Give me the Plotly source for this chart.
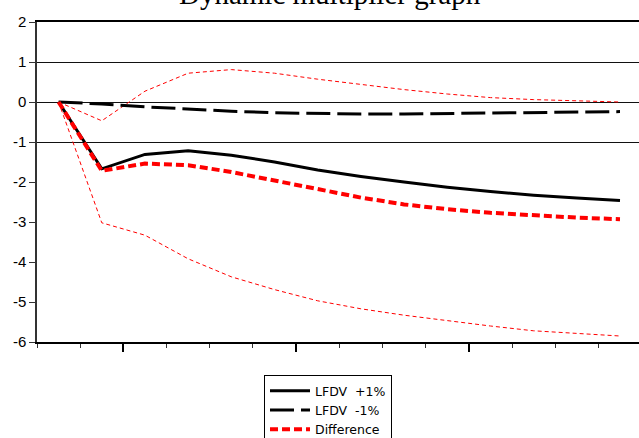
import plotly.graph_objects as go

periods = list(range(1, 15))
lfdv_plus = [0, -1.67, -1.31, -1.22, -1.33, -1.50, -1.70, -1.86, -2.00, -2.13, -2.24, -2.33, -2.40, -2.46]
lfdv_minus = [0, -0.05, -0.12, -0.18, -0.23, -0.27, -0.29, -0.30, -0.30, -0.29, -0.28, -0.27, -0.26, -0.24]
difference = [0, -1.72, -1.54, -1.58, -1.75, -1.96, -2.19, -2.39, -2.56, -2.68, -2.77, -2.84, -2.89, -2.93]
diff_upper = [0, -0.47, 0.27, 0.72, 0.81, 0.72, 0.57, 0.44, 0.31, 0.20, 0.11, 0.06, 0.03, 0.0]
diff_lower = [0, -3.02, -3.33, -3.92, -4.37, -4.69, -4.97, -5.17, -5.33, -5.47, -5.60, -5.72, -5.79, -5.85]
y_ticks = [2, 1, 0, -1, -2, -3, -4, -5, -6]
grid_vals = [1, 0, -1]
title_text = "Dynamic multiplier graph"

fig = go.Figure()
fig.add_trace(go.Scatter(x=periods, y=diff_upper, mode="lines", showlegend=False,
                         line=dict(color="red", width=1, dash="4px,3px")))
fig.add_trace(go.Scatter(x=periods, y=diff_lower, mode="lines", showlegend=False,
                         line=dict(color="red", width=1, dash="4px,3px")))
fig.add_trace(go.Scatter(x=periods, y=lfdv_plus, mode="lines", name="LFDV  +1%",
                         line=dict(color="black", width=3)))
fig.add_trace(go.Scatter(x=periods, y=lfdv_minus, mode="lines", name="LFDV  -1%",
                         line=dict(color="black", width=3, dash="24px,7px")))
fig.add_trace(go.Scatter(x=periods, y=difference, mode="lines", name="Difference",
                         line=dict(color="red", width=4, dash="8px,4px")))
# invisible trace on helper axis for gridlines
fig.add_trace(go.Scatter(x=[periods[0]], y=[0], mode="lines", showlegend=False,
                         yaxis="y2", hoverinfo="skip", line=dict(color="rgba(0,0,0,0)")))

fig.update_layout(
    width=639, height=438,
    margin=dict(l=37, r=0, t=22, b=96, autoexpand=False),
    paper_bgcolor="white", plot_bgcolor="white",
    font=dict(family="Liberation Sans, Arial, sans-serif", color="black", size=14),
    xaxis=dict(range=[0.5, 14.44], showgrid=False, zeroline=False, automargin=False,
               showline=True, linecolor="black", linewidth=1.5, mirror=True,
               tickmode="array", tickvals=[2.5, 6.5, 10.5], ticks="outside",
               ticklen=8, tickwidth=1.5, tickcolor="black", showticklabels=False,
               minor=dict(tickmode="array", tickvals=[v + 0.5 for v in range(0, 15)],
                          ticks="outside", ticklen=4, tickwidth=1, tickcolor="#333",
                          showgrid=False)),
    yaxis=dict(range=[-6, 2], showgrid=False, zeroline=False, automargin=False,
               showline=True, linecolor="#333", linewidth=1.5,
               tickmode="array", tickvals=y_ticks, ticktext=[str(v) for v in y_ticks],
               ticks="outside", ticklen=6, tickwidth=1, tickcolor="#333",
               tickfont=dict(size=15)),
    yaxis2=dict(range=[-6, 2], overlaying="y", showgrid=True, gridcolor="#111",
                gridwidth=1, zeroline=False, showline=False, tickmode="array",
                automargin=False, tickvals=grid_vals, showticklabels=False, ticks=""),
    legend=dict(x=(264 - 37) / 602, y=-(375 - 342) / 320, xanchor="left", yanchor="top",
                bordercolor="black", borderwidth=1, bgcolor="white", itemwidth=40,
                font=dict(size=12.5, family="DejaVu Sans, sans-serif"), tracegroupgap=0),
    showlegend=True,
)
fig.add_annotation(text=title_text, xref="paper", yref="paper", x=(330 - 37) / 602, y=1,
                   xanchor="center", yanchor="middle", yshift=28, showarrow=False,
                   font=dict(family="Liberation Serif, Times New Roman, serif", size=29, color="black"))
fig.write_html("out.html", config={"displayModeBar": False},
               post_script="document.body.style.margin='0';document.body.style.padding='0';")
